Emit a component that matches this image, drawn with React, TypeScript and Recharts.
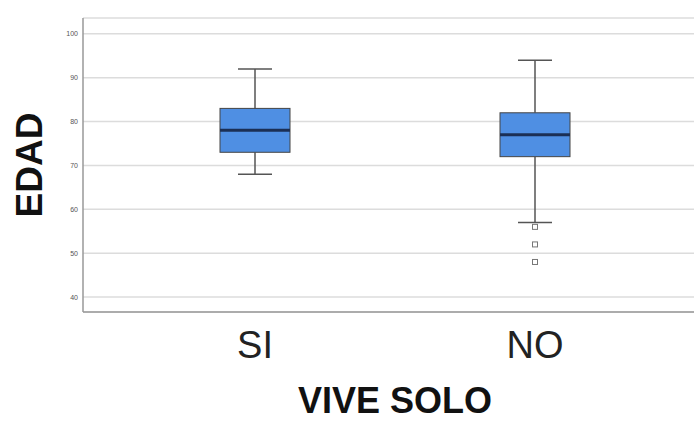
import React from 'react';
import { ComposedChart, Bar, Scatter, XAxis, YAxis, CartesianGrid } from 'recharts';

// Box plot: EDAD by VIVE SOLO
const categories = ['SI', 'NO'];
const minVals = [68, 57];
const q1Vals = [73, 72];
const medianVals = [78, 77];
const q3Vals = [83, 82];
const maxVals = [92, 94];

const outlierCats = ['NO', 'NO', 'NO'];
const outlierVals = [56, 52, 48];

const yTicks = [40, 50, 60, 70, 80, 90, 100];

const data = categories.map((c, i) => ({
  cat: c,
  range: [minVals[i], maxVals[i]],
  min: minVals[i],
  q1: q1Vals[i],
  median: medianVals[i],
  q3: q3Vals[i],
  max: maxVals[i],
}));

const outliers = outlierVals.map((v, i) => ({ cat: outlierCats[i], value: v }));

const FONT = '"Liberation Sans", Arial, sans-serif';

// draws the whole box plot inside the whisker range given by the bar
const BoxShape = (props: any) => {
  const { x, y, width, height, payload } = props;
  const { min, q1, median, q3, max } = payload;
  const py = (v: number) => y + ((max - v) / (max - min)) * height;
  const cx = x + width / 2;
  const cap = 17;
  return (
    <g>
      <line x1={cx} x2={cx} y1={py(max)} y2={py(q3)} stroke="#555" strokeWidth={1.5} />
      <line x1={cx} x2={cx} y1={py(q1)} y2={py(min)} stroke="#555" strokeWidth={1.5} />
      <line x1={cx - cap} x2={cx + cap} y1={py(max)} y2={py(max)} stroke="#555" strokeWidth={1.5} />
      <line x1={cx - cap} x2={cx + cap} y1={py(min)} y2={py(min)} stroke="#555" strokeWidth={1.5} />
      <rect x={x} y={py(q3)} width={width} height={py(q1) - py(q3)} fill="#4f8fe3" stroke="#444" strokeWidth={1} />
      <line x1={x} x2={x + width} y1={py(median)} y2={py(median)} stroke="#1b2f55" strokeWidth={3} />
    </g>
  );
};

const OutlierShape = (props: any) => {
  const { cx, cy } = props;
  return <rect x={cx - 2.5} y={cy - 2.5} width={5} height={5} fill="#fff" stroke="#777" strokeWidth={1} />;
};

const XTick = (props: any) => {
  const { x, y, payload } = props;
  return (
    <text x={x} y={y + 46} textAnchor="middle" fontFamily={FONT} fontSize={38} fill="#222">
      {payload.value}
    </text>
  );
};

const YTick = (props: any) => {
  const { x, y, payload } = props;
  return (
    <text x={x} y={y + 2.5} textAnchor="end" fontFamily={FONT} fontSize={7} fill="#555" stroke="none">
      {payload.value}
    </text>
  );
};

const XLabel = (props: any) => {
  const { viewBox } = props;
  return (
    <text x={395} y={viewBox.y + 101} textAnchor="middle" fontFamily={FONT} fontWeight="bold" fontSize={36} fill="#111">
      VIVE SOLO
    </text>
  );
};

const YLabel = (props: any) => {
  const { viewBox } = props;
  const cy = viewBox.y + viewBox.height / 2;
  return (
    <text x={42} y={cy} transform={`rotate(-90, 42, ${cy})`} textAnchor="middle" fontFamily={FONT} fontWeight="bold" fontSize={37} fill="#111">
      EDAD
    </text>
  );
};

export default function App() {
  return (
    <div style={{ position: 'absolute', left: 0, top: 0, width: 694, height: 422, background: '#fff' }}>
      <ComposedChart width={694} height={422} data={data} margin={{ top: 18, right: 0, bottom: 0, left: 0 }}>
        <CartesianGrid horizontal vertical={false} stroke="#dcdcdc" strokeWidth={1.5} />
        <XAxis
          dataKey="cat"
          type="category"
          allowDuplicatedCategory={false}
          height={110}
          padding={{ left: 32, right: 19 }}
          tickLine={false}
          tickSize={0}
          tickMargin={0}
          stroke="#999"
          strokeWidth={1.5}
          tick={<XTick />}
          label={<XLabel />}
        />
        <YAxis
          type="number"
          width={83}
          domain={[36.6, 103.6]}
          allowDataOverflow
          ticks={yTicks}
          interval={0}
          tickLine={false}
          tickSize={0}
          tickMargin={5}
          stroke="#999"
          strokeWidth={1.5}
          tick={<YTick />}
          label={<YLabel />}
        />
        <Bar dataKey="range" barSize={70} shape={<BoxShape />} isAnimationActive={false} />
        <Scatter data={outliers} dataKey="value" shape={<OutlierShape />} isAnimationActive={false} />
      </ComposedChart>
    </div>
  );
}
